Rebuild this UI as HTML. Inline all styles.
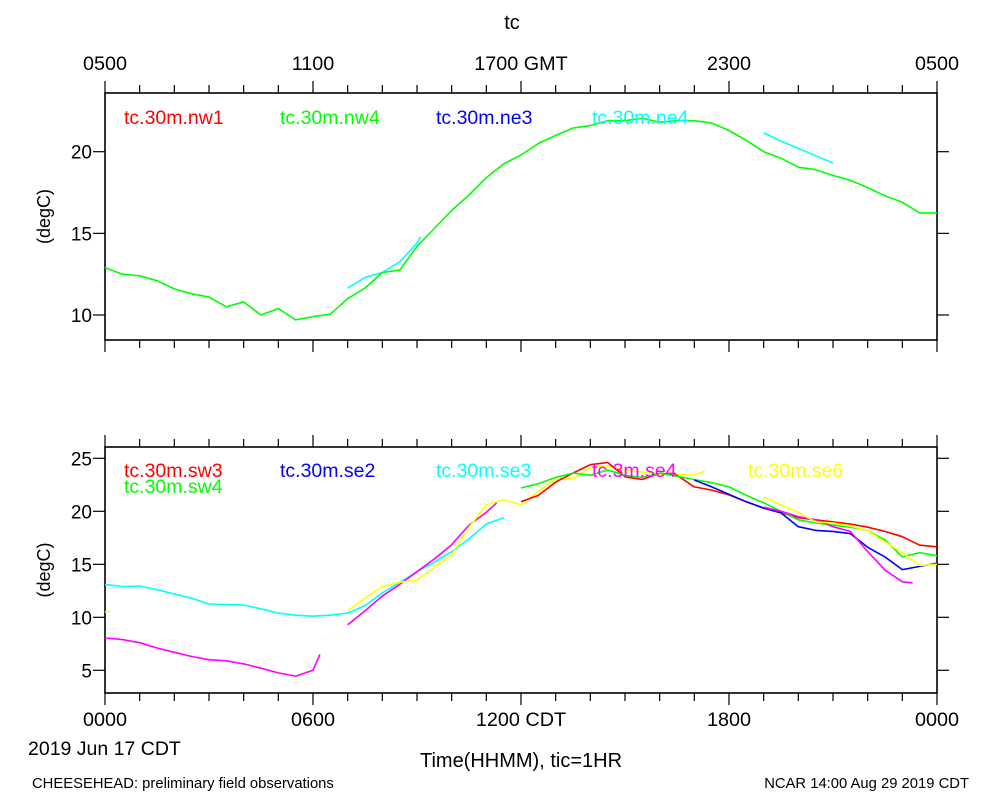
<!DOCTYPE html>
<html><head><meta charset="utf-8"><style>
html,body{margin:0;padding:0;background:#fff;}
svg{display:block;font-family:"Liberation Sans",sans-serif;}
</style></head><body>
<svg id="chart" width="1000" height="800" viewBox="0 0 1000 800">
<text x="512" y="29" text-anchor="middle" font-size="20">tc</text>
<g id="top-axis"></g>
<g id="p1"></g>
<g id="p2"></g>
<g id="bot-axis"></g>
<text x="28" y="755" font-size="19.5">2019 Jun 17 CDT</text>
<text x="521" y="767" text-anchor="middle" font-size="20">Time(HHMM), tic=1HR</text>
<text x="32" y="788" font-size="14.8">CHEESEHEAD: preliminary field observations</text>
<text x="969" y="788" text-anchor="end" font-size="14.8">NCAR 14:00 Aug 29 2019 CDT</text>
</svg>
<script>
// ---- data ----
const gmtTicks = ["0500","1100","1700 GMT","2300","0500"];
const cdtTicks = ["0000","0600","1200 CDT","1800","0000"];
const topYTicks = [10,15,20];
const botYTicks = [5,10,15,20,25];

const nw4Hours = [0,0.5,1,1.5,2,2.5,3,3.5,4,4.5,5,5.5,6,6.5,7,7.5,8,8.5,9,9.5,10,10.5,11,11.5,12,12.5,13,13.5,14,14.5,15,15.5,16,16.5,17,17.5,18,18.5,19,19.5,20,20.5,21,21.5,22,22.5,23,23.5,24];
const nw4Vals = [12.9,12.5,12.4,12.1,11.6,11.3,11.1,10.5,10.8,10.0,10.4,9.7,9.9,10.05,11.0,11.65,12.6,12.75,14.2,15.3,16.4,17.35,18.4,19.25,19.8,20.5,21.0,21.45,21.6,21.9,21.9,22.05,21.8,21.9,21.9,21.75,21.3,20.7,20.0,19.6,19.05,18.9,18.55,18.25,17.8,17.3,16.9,16.25,16.25];
const ne4aHours = [7,7.5,8,8.5,9,9.1];
const ne4aVals = [11.65,12.3,12.6,13.25,14.4,14.8];
const ne4bHours = [19,19.5,20,20.5,21];
const ne4bVals = [21.15,20.65,20.2,19.75,19.3];

const se3Hours = [0,0.5,1,1.5,2,2.5,3,3.5,4,4.5,5,5.5,6,6.5,7,7.5,8,8.5,9,9.5,10,10.5,11,11.5];
const se3Vals = [13.1,12.9,12.95,12.6,12.2,11.8,11.25,11.2,11.15,10.8,10.4,10.2,10.1,10.2,10.4,11.1,12.3,13.3,14.3,15.2,16.2,17.4,18.8,19.4];
const se4aHours = [0,0.5,1,1.5,2,2.5,3,3.5,4,4.5,5,5.5,6,6.2];
const se4aVals = [8.05,7.9,7.6,7.1,6.7,6.3,6.0,5.9,5.6,5.2,4.75,4.45,5.0,6.5];
const se4bHours = [7,7.5,8,8.5,9,9.5,10,10.5,11,11.3];
const se4bVals = [9.3,10.6,12.0,13.1,14.3,15.5,16.85,18.7,19.9,20.8];
const se4cHours = [19,19.5,20,20.5,21,21.5,22,22.5,23,23.3];
const se4cVals = [20.4,20.0,19.5,19.2,18.55,18.1,16.2,14.45,13.35,13.25];
const se6aHours = [0,0.15];
const se6aVals = [10.5,10.6];
const se6bHours = [7,7.5,8,8.5,9,9.5,10,10.5,11,11.5,12,12.5,13,13.5,14,14.5,15,15.5,16,16.5,17,17.3];
const se6bVals = [10.6,11.8,12.9,13.3,13.5,14.7,15.9,18.5,20.6,21.1,20.6,21.9,23.0,23.1,24.1,24.3,23.9,23.7,23.5,23.5,23.4,23.8];
const se6cHours = [19,19.5,20,20.5,21,21.5,22,22.5,23,23.5,24];
const se6cVals = [21.35,20.6,19.9,19.0,18.9,18.6,18.2,17.1,16.1,14.9,15.0];
const sw3Hours = [12,12.5,13,13.5,14,14.5,15,15.5,16,16.5,17,17.5,18,18.5,19,19.5,20,20.5,21,21.5,22,22.5,23,23.5,24];
const sw3Vals = [20.9,21.5,22.75,23.6,24.4,24.6,23.25,23.0,23.6,23.4,22.3,22.0,21.55,20.9,20.3,19.85,19.4,19.2,19.0,18.8,18.5,18.1,17.6,16.8,16.65];
const sw4Hours = sw3Hours;
const sw4Vals = [22.2,22.6,23.2,23.6,23.4,23.9,23.4,23.2,23.6,23.3,23.0,22.7,22.3,21.5,20.8,20.0,19.2,18.9,18.7,18.5,18.2,17.3,15.7,16.1,15.8];
const se2Hours = [17,17.5,18,18.5,19,19.5,20,20.5,21,21.5,22,22.5,23,23.5,24];
const se2Vals = [22.95,22.3,21.6,20.9,20.3,19.85,18.55,18.2,18.1,17.9,16.6,15.7,14.5,14.8,15.1];

// ---- drawing ----
const NS="http://www.w3.org/2000/svg";
const X0=105,X1=937;
const xs=h=>X0+h*(X1-X0)/24;
const P1={top:93,bot:340,y:v=>315-(v-10)*16.33};
const P2={top:447,bot:693,y:v=>670.3-(v-5)*10.6};
function mk(tag,attrs,parent){const e=document.createElementNS(NS,tag);for(const k in attrs)e.setAttribute(k,attrs[k]);parent.appendChild(e);return e;}

function frame(g,P,yt){
  const r=mk('rect',{x:X0,y:P.top,width:X1-X0,height:P.bot-P.top,fill:'none',stroke:'#000','stroke-width':1.6},g);
  
  
  for(let h=0;h<=24;h++){
    const L=(h%6===0)?12:8;
    const x=xs(h);
    const t1=mk('line',{x1:x,x2:x,y1:P.top-L,y2:P.top,stroke:'#000','stroke-width':1.2},g);
    
    
    const t2=mk('line',{x1:x,x2:x,y1:P.bot,y2:P.bot+L,stroke:'#000','stroke-width':1.2},g);
    
    
  }
  yt.forEach(v=>{
    const y=P.y(v);
    const a=mk('line',{x1:X0-12,x2:X0,y1:y,y2:y,stroke:'#000','stroke-width':1.2},g);
    
    
    const b=mk('line',{x1:X1,x2:X1+12,y1:y,y2:y,stroke:'#000','stroke-width':1.2},g);
    
    
    const t=mk('text',{x:X0-13,y:y+7,'text-anchor':'end','font-size':19},g);
    t.textContent=v;
    
    
  });
  const cy=(P.top+P.bot)/2;
  const yl=mk('text',{x:50,y:cy,'text-anchor':'middle','font-size':18,transform:`rotate(-90 50 ${cy})`},g);
  yl.textContent='(degC)';
  
  
}
function line(g,P,hours,vals,color,name){
  const d=hours.map((h,i)=>(i?'L':'M')+xs(h).toFixed(1)+' '+P.y(vals[i]).toFixed(1)).join(' ');
  const p=mk('path',{d:d,fill:'none',stroke:color,'stroke-width':1.6,'stroke-linejoin':'round'},g);
  
  
}
function legend(g,x,y,txt,color){
  const t=mk('text',{x:x,y:y,'font-size':19.5,fill:color},g);
  t.textContent=txt;
  
  
}
const g1=document.getElementById('p1'),g2=document.getElementById('p2');
frame(g1,P1,topYTicks);frame(g2,P2,botYTicks);
const ta=document.getElementById('top-axis'),ba=document.getElementById('bot-axis');
gmtTicks.forEach((s,i)=>{const t=mk('text',{x:xs(i*6),y:70,'text-anchor':'middle','font-size':19.8},ta);t.textContent=s;
  
  });
cdtTicks.forEach((s,i)=>{const t=mk('text',{x:xs(i*6),y:726,'text-anchor':'middle','font-size':19.8},ba);t.textContent=s;
  
  });

line(g1,P1,ne4aHours,ne4aVals,'#00ffff','series-ne4');
line(g1,P1,ne4bHours,ne4bVals,'#00ffff','series-ne4');
line(g1,P1,nw4Hours,nw4Vals,'#00ff00','series-nw4');
legend(g1,124,124,'tc.30m.nw1','#ff0000');
legend(g1,280,124,'tc.30m.nw4','#00ff00');
legend(g1,436,124,'tc.30m.ne3','#0000ff');
legend(g1,592,124,'tc.30m.ne4','#00ffff');

line(g2,P2,se3Hours,se3Vals,'#00ffff','series-se3');
line(g2,P2,se4aHours,se4aVals,'#ff00ff','series-se4');
line(g2,P2,se4bHours,se4bVals,'#ff00ff','series-se4');
line(g2,P2,se6aHours,se6aVals,'#ffff00','series-se6');
line(g2,P2,se6bHours,se6bVals,'#ffff00','series-se6');
line(g2,P2,sw3Hours,sw3Vals,'#ff0000','series-sw3');
line(g2,P2,sw4Hours,sw4Vals,'#00ff00','series-sw4');
line(g2,P2,se2Hours,se2Vals,'#0000ff','series-se2');
line(g2,P2,se4cHours,se4cVals,'#ff00ff','series-se4');
line(g2,P2,se6cHours,se6cVals,'#ffff00','series-se6');
legend(g2,124,477,'tc.30m.sw3','#ff0000');
legend(g2,124,493,'tc.30m.sw4','#00ff00');
legend(g2,280,477,'tc.30m.se2','#0000ff');
legend(g2,436,477,'tc.30m.se3','#00ffff');
legend(g2,592,477,'tc.3m.se4','#ff00ff');
legend(g2,748,477,'tc.30m.se6','#ffff00');
</script>
</body></html>
